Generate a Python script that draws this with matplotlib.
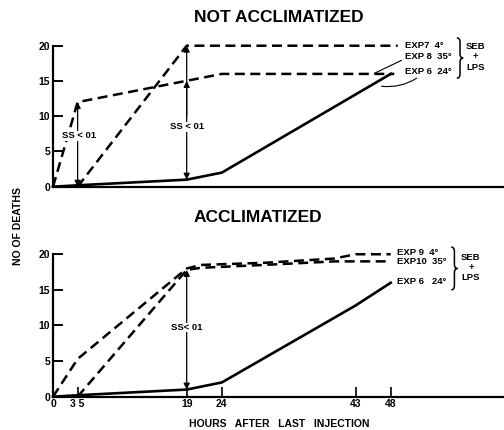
import matplotlib
matplotlib.use("Agg")
import matplotlib.pyplot as plt
from matplotlib.path import Path
from matplotlib.patches import PathPatch

plt.rcParams['font.family'] = ['Liberation Sans', 'DejaVu Sans']
plt.rcParams['font.weight'] = 'bold'

# %% DATA -----------------------------------------------------------------
# not acclimatized
exp7_x = [3.5, 19, 49]
exp7_y = [0, 20, 20]
exp8_x = [0, 3.5, 24, 48.5]
exp8_y = [0, 12, 16, 16]
exp6a_x = [0, 3.5, 19, 24, 48]
exp6a_y = [0, 0.2, 1, 2, 16]

# acclimatized
exp9_x = [0, 3.5, 19, 21, 30, 40, 43, 48]
exp9_y = [0, 5.3, 18, 18.5, 18.8, 19.4, 20, 20]
exp10_x = [3.5, 19, 21, 30, 40, 48]
exp10_y = [0, 17.8, 18.1, 18.5, 19.0, 19.0]
exp6b_x = [0, 3.5, 19, 24, 43, 48]
exp6b_y = [0, 0.2, 1, 2, 12.8, 16]

xticks = [0, 3.5, 19, 24, 43, 48]
xticklabels = ['0', '3 5', '19', '24', '43', '48']
yticks = [0, 5, 10, 15, 20]

# %% FIGURE ---------------------------------------------------------------
fig = plt.figure(figsize=(5.04, 4.30), dpi=100)
ax1 = fig.add_axes([0.1052, 0.5658, 0.8948, 0.3279])
ax2 = fig.add_axes([0.1052, 0.0775, 0.8948, 0.3312])

DASH = dict(color='black', lw=1.8, ls=(0, (4, 2.2)), clip_on=False)
SOLID = dict(color='black', lw=1.9, clip_on=False)


def style_axes(ax):
    ax.set_xlim(0, 64.1)
    ax.set_ylim(0, 20)
    for s in ('top', 'right'):
        ax.spines[s].set_visible(False)
    ax.spines['left'].set_bounds(0, 20)
    ax.spines['left'].set_linewidth(1.6)
    ax.spines['bottom'].set_linewidth(1.6)
    ax.set_yticks(yticks)
    ax.set_yticklabels([str(t) for t in yticks], fontsize=7.5, fontweight='bold')
    ax.tick_params(axis='y', direction='in', length=7, width=1.4, pad=2)


def arrow(ax, x, y0, y1, both=True):
    ax.annotate('', xy=(x, y1), xytext=(x, y0),
                arrowprops=dict(arrowstyle='<|-|>' if both else '-|>', lw=0.9,
                                color='black', mutation_scale=9,
                                shrinkA=0, shrinkB=0))


def brace(ax, x, top, bot, w=0.9):
    mid = (top + bot) / 2
    r = 0.6
    xm = x + w / 2
    verts = [(x, top), (xm, top), (xm, top - r),
             (xm, mid + r),
             (xm, mid), (x + w, mid),
             (xm, mid), (xm, mid - r),
             (xm, bot + r),
             (xm, bot), (x, bot)]
    codes = [Path.MOVETO, Path.CURVE3, Path.CURVE3,
             Path.LINETO,
             Path.CURVE3, Path.CURVE3,
             Path.CURVE3, Path.CURVE3,
             Path.LINETO,
             Path.CURVE3, Path.CURVE3]
    ax.add_patch(PathPatch(Path(verts, codes), fc='none', ec='black', lw=1.1,
                           clip_on=False))


def legend_block(ax, labels, ys, x, brace_x, top, bot, seb_x):
    for lab, y in zip(labels, ys):
        ax.text(x, y, lab, fontsize=6.8, fontweight='bold', va='center',
                ha='left', clip_on=False)
    brace(ax, brace_x, top, bot)
    mid = (top + bot) / 2
    ax.text(seb_x, mid + 1.6, 'SEB', fontsize=6.8, fontweight='bold',
            va='center', ha='center')
    ax.text(seb_x, mid + 0.2, '+', fontsize=6.8, fontweight='bold',
            va='center', ha='center')
    ax.text(seb_x, mid - 1.3, 'LPS', fontsize=6.8, fontweight='bold',
            va='center', ha='center')


# %% TOP PANEL ------------------------------------------------------------
style_axes(ax1)
ax1.set_xticks([])
ax1.plot(exp7_x, exp7_y, **DASH)
ax1.plot(exp8_x, exp8_y, **DASH)
ax1.plot(exp6a_x, exp6a_y, **SOLID)

arrow(ax1, 3.5, 0, 12)
ax1.text(3.7, 7.2, 'SS < 01', fontsize=6.8, fontweight='bold', ha='center',
         va='center', bbox=dict(fc='white', ec='none', pad=0.3))
arrow(ax1, 19, 1, 20)
arrow(ax1, 19, 10, 15, both=False)
ax1.text(19, 8.5, 'SS < 01', fontsize=6.8, fontweight='bold', ha='center',
         va='center', bbox=dict(fc='white', ec='none', pad=0.3))

legend_block(ax1, ['EXP7  4°', 'EXP 8  35°', 'EXP 6  24°'],
             [20.1, 18.5, 16.4], 50.0, 57.4, 21.1, 15.4, 60.1)
ax1.annotate('', xy=(45.3, 15.9), xytext=(49.9, 18.1),
             arrowprops=dict(arrowstyle='-', lw=0.8, color='black'))
ax1.annotate('', xy=(46.3, 14.3), xytext=(52.0, 15.6),
             arrowprops=dict(arrowstyle='-', lw=0.8, color='black',
                             connectionstyle='arc3,rad=-0.2'))

# %% BOTTOM PANEL ---------------------------------------------------------
style_axes(ax2)
ax2.plot(exp9_x, exp9_y, **DASH)
ax2.plot(exp10_x, exp10_y, **DASH)
ax2.plot(exp6b_x, exp6b_y, **SOLID)
ax2.set_xticks(xticks)
ax2.set_xticklabels(xticklabels, fontsize=7.5, fontweight='bold')
ax2.tick_params(axis='x', direction='in', length=7, width=1.2, pad=2)

arrow(ax2, 19, 1, 17.8)
ax2.text(19, 9.7, 'SS< 01', fontsize=6.8, fontweight='bold', ha='center',
         va='center', bbox=dict(fc='white', ec='none', pad=0.3))

legend_block(ax2, ['EXP 9  4°', 'EXP10  35°', 'EXP 6   24°'],
             [20.2, 19.0, 16.2], 48.9, 56.6, 21.0, 15.0, 59.4)

# %% TEXT -----------------------------------------------------------------
fig.text(279 / 504, 1 - 18 / 430, 'NOT ACCLIMATIZED', fontsize=12.5,
         fontweight='bold', ha='center', va='center')
fig.text(258 / 504, 1 - 217 / 430, 'ACCLIMATIZED', fontsize=12.5,
         fontweight='bold', ha='center', va='center')
fig.text(18 / 504, 1 - 226 / 430, 'NO OF DEATHS', fontsize=7.5,
         fontweight='bold', rotation=90, ha='center', va='center')
fig.text(279 / 504, 1 - 424 / 430, 'HOURS   AFTER   LAST   INJECTION',
         fontsize=7.5, fontweight='bold', ha='center', va='center')

fig.savefig('out.png', dpi=100)
